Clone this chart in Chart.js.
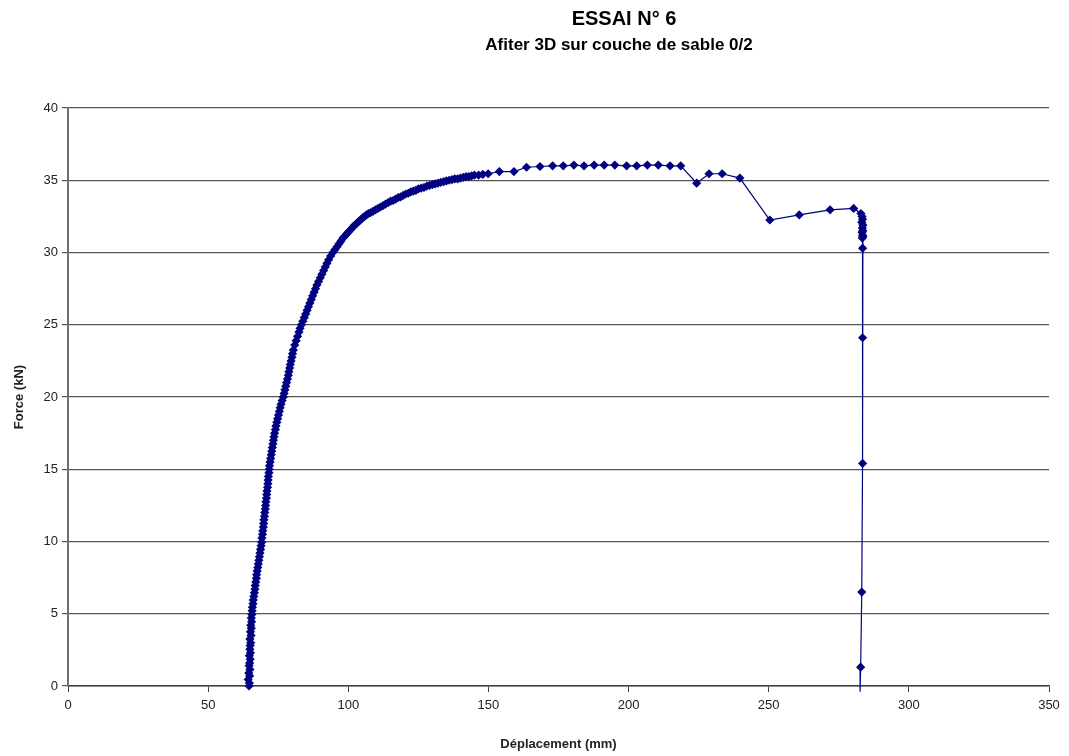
<!DOCTYPE html>
<html>
<head>
<meta charset="utf-8">
<script src="https://cdn.jsdelivr.net/npm/chart.js@4/dist/chart.umd.min.js"></script>
<style>
  html, body { margin: 0; padding: 0; background: #ffffff; }
  #wrap { width: 1069px; height: 756px; position: relative; }
</style>
</head>
<body>
<div id="wrap"><canvas id="c" width="1069" height="756"></canvas></div>
<script>
// ---- Data ----
const chartTitle = "ESSAI N° 6";
const chartSubtitle = "Afiter 3D sur couche de sable 0/2";
const xAxisTitle = "Déplacement (mm)";
const yAxisTitle = "Force (kN)";

// Displacement (mm)
const deplacement = [
  64.6,64.7,64.3,64.8,64.5,64.9,64.6,64.8,65.0,64.7,65.1,64.9,65.0,65.2,64.9,65.3,65.1,65.4,65.2,65.5,65.4,65.6,
  65.7,65.8,66.0,66.1,66.3,66.5,66.7,66.8,67.0,67.2,67.3,67.5,67.7,67.9,68.1,68.3,68.5,68.7,68.9,69.1,
  69.2,69.4,69.5,69.7,69.8,69.9,70.1,70.2,70.4,70.5,70.6,70.8,70.9,71.0,71.2,71.3,71.4,71.5,71.7,71.8,
  71.9,72.1,72.3,72.5,72.7,72.9,73.1,73.3,73.5,73.7,74.0,74.2,74.5,74.8,75.1,75.4,75.7,76.0,76.4,76.8,
  77.1,77.4,77.7,78.0,78.3,78.6,78.8,79.1,79.3,79.6,79.9,80.1,80.4,80.9,81.4,81.9,82.4,82.8,83.3,
  83.8,84.3,84.8,85.3,85.8,86.3,86.8,87.3,87.8,88.3,88.8,89.4,90.0,90.6,91.2,91.8,92.4,93.0,93.7,94.5,
  95.3,96.0,96.7,97.4,98.1,98.8,99.5,100.2,100.9,101.6,102.3,103.0,103.7,104.4,105.1,105.8,106.5,107.2,107.9,
  108.8,109.7,110.6,111.5,112.4,113.3,114.2,115.1,116.0,116.9,117.8,118.7,119.6,120.5,121.4,122.3,123.2,124.1,125.0,
  126.0,127.0,128.0,129.0,130.0,131.0,132.0,133.0,134.0,135.0,136.0,137.0,138.0,139.0,140.0,141.0,142.0,143.0,144.0,145.0,146.5,148.0,149.9,
  153.9,159.1,163.6,168.4,172.9,176.7,180.5,184.1,187.7,191.3,195.1,199.3,202.9,206.7,210.6,214.8,218.6,
  224.3,228.7,233.4,239.7,250.4,260.9,271.9,280.3,
  282.9,283.3,283.5,283.2,283.6,283.4,283.6,283.3,283.5,283.6,283.4,283.5,
  283.5,283.5,283.2,282.8,282.6
];

// Force (kN)
const force = [
  0,0.2,0.45,0.7,0.9,1.15,1.4,1.6,1.85,2.1,2.3,2.55,2.8,3.0,3.25,3.5,3.75,4.0,4.2,4.45,4.7,4.95,
  5.2,5.45,5.7,5.95,6.2,6.45,6.7,6.95,7.2,7.45,7.7,7.95,8.2,8.45,8.7,8.95,9.2,9.45,9.7,9.95,
  10.25,10.5,10.75,11.0,11.25,11.5,11.75,12.0,12.25,12.5,12.75,13.0,13.25,13.5,13.75,14.0,14.25,14.5,14.75,15.0,
  15.25,15.5,15.75,16.0,16.25,16.5,16.75,17.0,17.25,17.5,17.75,18.0,18.25,18.5,18.75,19.0,19.25,19.5,19.75,20.0,
  20.25,20.5,20.75,21.0,21.25,21.5,21.75,22.0,22.25,22.5,22.75,23.0,23.25,23.6,23.9,24.2,24.5,24.75,25.0,
  25.25,25.5,25.75,26.0,26.25,26.5,26.75,27.0,27.25,27.5,27.75,28.0,28.25,28.5,28.75,29.0,29.25,29.5,29.75,30.0,
  30.2,30.4,30.6,30.8,31.0,31.15,31.3,31.45,31.6,31.75,31.9,32.0,32.15,32.25,32.4,32.5,32.6,32.7,32.75,
  32.85,32.95,33.05,33.15,33.25,33.35,33.45,33.55,33.6,33.7,33.8,33.85,33.95,34.05,34.1,34.2,34.25,34.3,34.4,
  34.45,34.5,34.6,34.65,34.7,34.75,34.8,34.85,34.9,34.95,35.0,35.05,35.1,35.1,35.15,35.2,35.25,35.25,35.3,35.35,35.35,35.4,35.45,
  35.6,35.6,35.9,35.95,36.0,36.0,36.05,36.0,36.05,36.05,36.05,36.0,36.0,36.05,36.05,36.0,36.0,
  34.8,35.45,35.45,35.15,32.25,32.6,32.95,33.05,
  32.7,32.5,32.3,32.1,31.9,31.7,31.5,31.4,31.2,31.1,31.0,30.3,
  24.1,15.4,6.5,1.3,-0.4
];

const xTicks = [0,50,100,150,200,250,300,350];
const yTicks = [0,5,10,15,20,25,30,35,40];

// ---- Build chart ----
const points = deplacement.map((x, i) => ({ x: x, y: force[i] }));
const NAVY = '#000080';
const FONT = "'Liberation Sans', Arial, sans-serif";

const titlePlugin = {
  id: 'titles',
  afterDraw(chart) {
    const ctx = chart.ctx;
    ctx.save();
    ctx.fillStyle = '#000000';
    ctx.textAlign = 'center';
    ctx.textBaseline = 'alphabetic';
    ctx.font = "bold 20px " + FONT;
    ctx.fillText(chartTitle, 624, 25);
    ctx.font = "bold 17px " + FONT;
    ctx.fillText(chartSubtitle, 619, 50);
    ctx.restore();
  }
};

new Chart(document.getElementById('c'), {
  type: 'scatter',
  data: {
    datasets: [{
      data: points,
      showLine: true,
      borderColor: NAVY,
      backgroundColor: NAVY,
      borderWidth: 1.2,
      pointStyle: 'rectRot',
      pointRadius: (c) => (c.dataIndex === points.length - 1 ? 0 : 4.6),
      pointHoverRadius: 4.6,
      pointBorderWidth: 0,
      tension: 0,
      clip: { left: 0, top: 0, right: 0, bottom: 6 }
    }]
  },
  plugins: [titlePlugin],
  options: {
    responsive: false,
    animation: false,
    layout: { padding: { top: 108, right: 20, left: 0, bottom: 0 } },
    plugins: {
      legend: { display: false },
      tooltip: { enabled: false },
      title: { display: false }
    },
    scales: {
      x: {
        type: 'linear',
        min: 0, max: 350,
        afterFit: (s) => { s.height = 70; },
        afterBuildTicks: (s) => { s.ticks = xTicks.map(v => ({ value: v })); },
        ticks: { color: '#222', font: { family: FONT, size: 13 }, padding: 6, maxRotation: 0 },
        grid: { drawOnChartArea: false, drawTicks: true, tickLength: 6, color: '#404040' },
        border: { display: true, color: '#404040', width: 1.5 },
        title: { display: true, text: xAxisTitle, color: '#222', font: { family: FONT, size: 13, weight: 'bold' }, padding: { top: 4, bottom: 4 } }
      },
      y: {
        type: 'linear',
        min: 0, max: 40,
        afterFit: (s) => { s.width = 68; },
        afterBuildTicks: (s) => { s.ticks = yTicks.map(v => ({ value: v })); },
        ticks: { color: '#222', font: { family: FONT, size: 13 }, padding: 4 },
        grid: { drawOnChartArea: true, drawTicks: true, tickLength: 6, color: '#555555', lineWidth: 1.2 },
        border: { display: true, color: '#707070', width: 2 },
        title: { display: true, text: yAxisTitle, color: '#222', font: { family: FONT, size: 13, weight: 'bold' }, padding: { top: 12, bottom: 4 } }
      }
    }
  }
});
</script>
</body>
</html>
